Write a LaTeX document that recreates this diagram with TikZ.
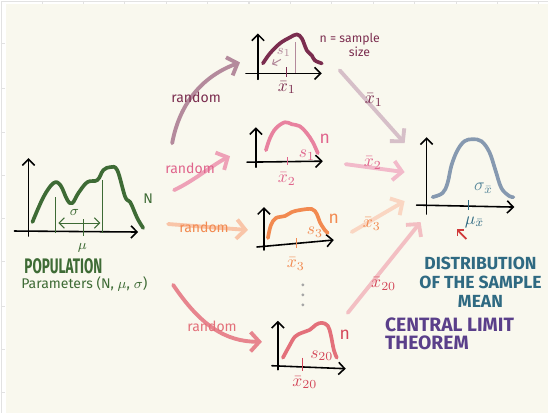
\documentclass[tikz,border=0pt]{standalone}
\usepackage{fontspec}
\setmainfont{Fira Sans}
\usepackage{tikz}
\usetikzlibrary{arrows.meta}

\definecolor{paper}{HTML}{F9F8EE}
\definecolor{frame}{HTML}{E2E2E2}
\definecolor{popgreen}{HTML}{3E6B35}
\definecolor{maroon}{HTML}{7B2D4F}
\definecolor{maroonlt}{HTML}{B48A9C}
\definecolor{pinkc}{HTML}{E8829F}
\definecolor{pinktxt}{HTML}{E0648C}
\definecolor{orangec}{HTML}{F28A50}
\definecolor{redc}{HTML}{E3707A}
\definecolor{redtxt}{HTML}{D4485A}
\definecolor{bluegray}{HTML}{8699B0}
\definecolor{tealc}{HTML}{2F6A82}
\definecolor{purplec}{HTML}{5A3F8A}
\definecolor{pointred}{HTML}{D03A3A}

\begin{document}
\begin{tikzpicture}[
    x=0.02cm, y=-0.02cm,
    axis/.style={line width=0.9pt, line cap=round, -{Straight Barb[length=3.5pt,width=7pt]}},
    curve/.style={line width=2.1pt, line cap=round, line join=round},
    link/.style={line width=2.2pt, line cap=round, -{Straight Barb[length=5pt,width=11pt]}},
    thinline/.style={line width=0.6pt},
    lbl/.style={inner sep=0pt, font=\fontsize{8}{9}\selectfont},
    meanlbl/.style={inner sep=0pt, font=\fontsize{10}{11}\selectfont},
    biglbl/.style={inner sep=0pt, font=\bfseries\fontsize{10}{10.8}\selectfont, align=center}
]

% paper and frame
\fill[white] (0,0) rectangle (549,413);
\fill[paper] (5,3) rectangle (549,413);
\draw[frame, line width=0.8pt] (1,413) -- (1,1) -- (549,1);
\foreach \tx in {42,83,124,166,207,249,291,332,374,415,457,498,539}
    \draw[frame, line width=0.6pt] (\tx,0) -- (\tx,3);
\foreach \ty in {43,88,132,175,218,262,307,350,393}
    \draw[frame, line width=0.6pt] (0,\ty) -- (4,\ty);
\useasboundingbox (0,0) rectangle (549,413);

% population
\draw[axis] (28,236) -- (28,158);
\draw[axis] (14,231) -- (138,232);
\draw[curve, popgreen] plot[smooth, tension=0.6] coordinates {(32,222) (43,197) (53,183) (60,185) (67,200) (72,203) (78,193) (87,182) (97,180) (103,170) (110,167) (117,170) (125,197) (130,202) (137,218) (143,228)};
\draw[thinline, popgreen] (55,197) -- (55,233);
\draw[thinline, popgreen] (102,180) -- (102,233);
\draw[thinline, popgreen, {Straight Barb[length=3pt,width=6pt]}-{Straight Barb[length=3pt,width=6pt]}] (58,223) -- (100,223);
\draw[thinline, popgreen] (83,219) -- (83,236);
\node[lbl, popgreen] (popsigma) at (74,212) {$\sigma$};
\node[lbl, popgreen] (popmu) at (82,248) {$\mu$};
\node[lbl, popgreen] (popN) at (148,199) {N};
\node[inner sep=0pt, popgreen] (poptitle) at (63,266) {\scalebox{0.64}[1]{\bfseries\fontsize{12}{13}\selectfont POPULATION}};
\node[lbl, popgreen] (popparam) at (84,284) {Parameters (N, $\mu$, $\sigma$)};

% sample 1
\draw[axis] (258,79) -- (258,33);
\draw[axis] (246,73) -- (322,73);
\draw[curve, maroon] plot[smooth, tension=0.6] coordinates {(263,63) (270,53) (280,43) (290,37) (297,34) (302,38) (307,50) (312,55) (315,60) (322,63)};
\draw[thinline, maroonlt] (296,42) -- (296,73);
\draw[thinline, maroonlt, -{Straight Barb[length=2pt,width=4pt]}] (281,59) -- (272,64);
\draw[thinline, maroon] (287,67) -- (287,77);
\node[lbl, maroonlt] (sone) at (284,52) {$s_1$};
\node[meanlbl, maroon] (xone) at (287,87) {$\bar{x}_1$};
\node[lbl, maroon, align=center, font=\fontsize{7}{6.5}\selectfont] (nsize) at (350,45) {n = sample\\\hspace{1.6em}size};

% sample 2
\draw[axis] (256,167) -- (256,127);
\draw[axis] (247,162) -- (323,161);
\draw[curve, pinkc] plot[smooth, tension=0.6] coordinates {(266,150) (270,138) (276,128) (285,122) (292,124) (300,126) (307,133) (313,142) (318,153)};
\draw[thinline, pinktxt] (288,157) -- (288,165);
\node[meanlbl, pinktxt] (stwo) at (307,155) {$s_1$};
\node[meanlbl, pinktxt] (ntwo) at (325,139) {n};
\node[meanlbl, pinktxt] (xtwo) at (287,179) {$\bar{x}_2$};

% sample 3
\draw[axis] (264,250) -- (264,207);
\draw[axis] (257,247) -- (334,240);
\draw[curve, orangec] plot[smooth, tension=0.6] coordinates {(268,238) (271,225) (276,218) (285,216) (292,212) (300,210) (312,209) (317,214) (320,222) (325,230) (328,233)};
\draw[thinline, orangec] (297,238) -- (297,248);
\node[meanlbl, orangec] (sthree) at (315,232) {$s_3$};
\node[meanlbl, orangec] (nthree) at (334,219) {n};
\node[meanlbl, orangec] (xthree) at (296,264) {$\bar{x}_3$};

% more samples
\foreach \dy in {285,295,305}
    \fill[gray!70] (303,\dy) circle (1.6);

% sample 20
\draw[axis] (278,370) -- (278,321);
\draw[axis] (272,366) -- (346,369);
\draw[curve, redc] plot[smooth, tension=0.6] coordinates {(283,358) (289,347) (295,337) (302,333) (310,330) (316,325) (322,323) (328,326) (331,335) (334,350) (337,358)};
\draw[thinline, redtxt] (303,358) -- (303,371);
\node[meanlbl, redtxt] (stwenty) at (322,356) {$s_{20}$};
\node[meanlbl, redtxt] (ntwenty) at (345,335) {n};
\node[meanlbl, redtxt] (xtwenty) at (305,383) {$\bar{x}_{20}$};

% sampling distribution
\draw[axis] (427,214) -- (427,137);
\draw[axis] (417,205) -- (515,207);
\draw[curve, bluegray] plot[smooth, tension=0.6] coordinates {(433,197) (443,193) (448,183) (452,165) (458,150) (465,141) (473,139) (482,141) (490,152) (496,170) (502,188) (510,196) (514,197)};
\draw[thinline, tealc] (469,200) -- (469,210);
\node[meanlbl, tealc!80] (sigmabar) at (484,188) {$\sigma_{\bar{x}}$};
\node[meanlbl, tealc] (mubar) at (475,222) {$\mu_{\bar{x}}$};
\coordinate (pointer) at (467,239);
\coordinate (pointtip) at (457,229);
\draw[line width=1pt, pointred, -{Straight Barb[length=2.5pt,width=5pt]}] (pointer) -- (pointtip);
\node[biglbl, tealc] (distname) at (481,282) {DISTRIBUTION\\OF THE SAMPLE\\MEAN};
\node[inner sep=0pt, purplec, align=left, anchor=west, font=\bfseries\fontsize{11}{10.5}\selectfont] (clt) at (385,334) {CENTRAL LIMIT\\THEOREM};

% random sampling arrows
\coordinate (popout1) at (172,143);
\coordinate (popout2) at (174,190);
\coordinate (popout3) at (168,224);
\coordinate (popout4) at (173,285);
\coordinate (in1) at (240,62);
\coordinate (in2) at (230,156);
\coordinate (in3) at (248,230);
\coordinate (in4) at (262,342);
\draw[link, maroonlt] (popout1) .. controls (180,100) and (205,75) .. (in1);
\draw[link, pinkc!75] (popout2) .. controls (195,180) and (212,165) .. (in2);
\draw[link, orangec!50] (popout3) -- (in3);
\draw[link, redc!85] (popout4) .. controls (200,325) and (225,342) .. (in4);
\node[lbl, maroon] (rand1) at (196,97) {random};
\node[lbl, pinktxt] (rand2) at (190,168) {random};
\node[lbl, orangec] (rand3) at (204,227) {random};
\node[lbl, redc] (rand4) at (212,327) {random};

% sample means to the sampling distribution
\coordinate (out1) at (340,70);
\coordinate (out2) at (346,164);
\coordinate (out3) at (352,232);
\coordinate (out4) at (348,313);
\coordinate (end1) at (405,143);
\coordinate (end2) at (405,172);
\coordinate (end3) at (405,201);
\coordinate (end4) at (421,222);
\draw[link, maroonlt!55] (out1) -- (end1);
\draw[link, pinkc!55] (out2) -- (end2);
\draw[link, orangec!35] (out3) -- (end3);
\draw[link, redc!45] (out4) -- (end4);
\node[meanlbl, maroon] (mean1) at (374,100) {$\bar{x}_1$};
\node[meanlbl, pinktxt] (mean2) at (373,163) {$\bar{x}_2$};
\node[meanlbl, orangec] (mean3) at (372,224) {$\bar{x}_3$};
\node[meanlbl, redtxt] (mean20) at (384,284) {$\bar{x}_{20}$};

\end{tikzpicture}
\end{document}
